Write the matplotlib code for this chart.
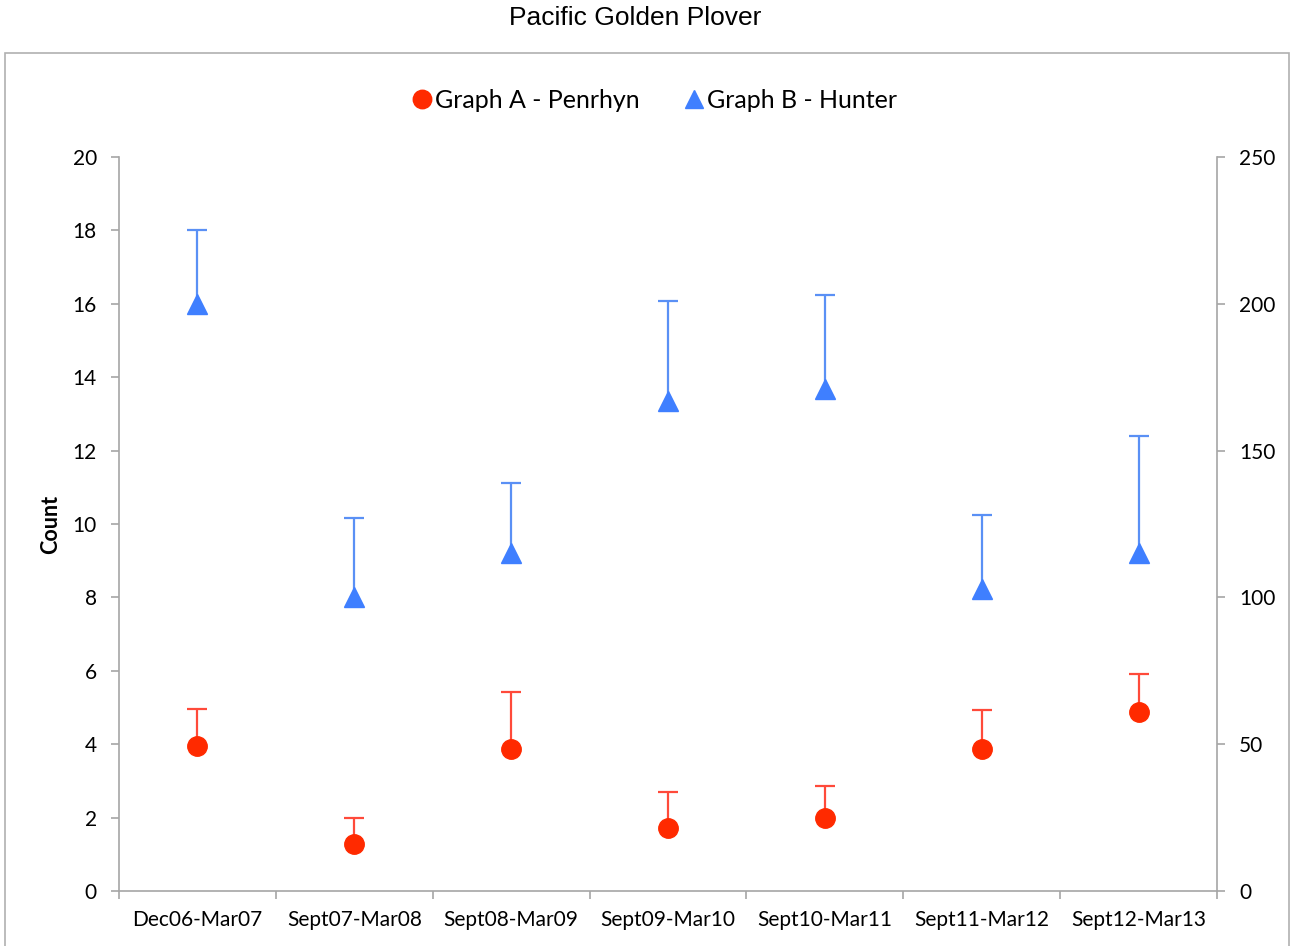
import numpy as np
import matplotlib
matplotlib.use("Agg")
import matplotlib.pyplot as plt
from matplotlib.patches import Rectangle

periods = ["Dec06-Mar07", "Sept07-Mar08", "Sept08-Mar09", "Sept09-Mar10",
           "Sept10-Mar11", "Sept11-Mar12", "Sept12-Mar13"]

# Graph A - Penrhyn (left axis)
penrhyn = [3.95, 1.28, 3.87, 1.72, 1.99, 3.87, 4.88]
penrhyn_err = [1.0, 0.71, 1.55, 0.98, 0.87, 1.06, 1.03]

# Graph B - Hunter (right axis)
hunter = [200, 100, 115, 167, 171, 103, 115]
hunter_err = [25, 27, 24, 34, 32, 25, 40]

red = "#FF2A00"
red_err = "#FF4A3A"
blue = "#3F7FFF"
blue_err = "#5A90F5"
grey = "#A6A6A6"
font = "Lato"

fig = plt.figure(figsize=(12.9, 9.46), dpi=100)
ax = fig.add_axes([119/1290, 1-891/946, (1217-119)/1290, (891-157)/946])
ax2 = ax.twinx()

x = np.arange(len(periods))
n = len(periods)

# plus-only error bars: stem + cap at the top
p_top = np.array(penrhyn) + np.array(penrhyn_err)
h_top = np.array(hunter) + np.array(hunter_err)

ax.vlines(x, penrhyn, p_top, color=red_err, lw=1.6, zorder=2)
ax.plot(x, p_top, "_", color=red_err, ms=14, mew=1.6, zorder=2)
ax.plot(x, penrhyn, "o", color=red, ms=14, zorder=3, label="Graph A - Penrhyn")

ax2.vlines(x, hunter, h_top, color=blue_err, lw=1.6, zorder=2)
ax2.plot(x, h_top, "_", color=blue_err, ms=14, mew=1.6, zorder=2)
ax2.plot(x, hunter, "^", color=blue, ms=14, zorder=3, label="Graph B - Hunter")

ax.set_xlim(-0.5, n - 0.5)
ax.set_ylim(0, 20)
ax.set_yticks(range(0, 21, 2))
ax2.set_ylim(0, 250)
ax2.set_yticks(range(0, 251, 50))

ax.set_xticks(x)
ax.set_xticklabels(periods, fontsize=15, family=font)
ax.set_xticks(np.arange(-0.5, n, 1), minor=True)
ax.tick_params(axis="x", which="major", length=0, pad=14)
ax.tick_params(axis="x", which="minor", length=6, width=1.2, color=grey, direction="out")

for a in (ax, ax2):
    for s in a.spines.values():
        s.set_visible(False)
ax.spines["left"].set_visible(True)
ax.spines["bottom"].set_visible(True)
ax2.spines["right"].set_visible(True)
for s in (ax.spines["left"], ax.spines["bottom"], ax2.spines["right"]):
    s.set_color(grey)
    s.set_linewidth(1.2)

ax.tick_params(axis="y", length=6, width=1.2, color=grey, pad=10)
ax2.tick_params(axis="y", length=6, width=1.2, color=grey, pad=10)
for lab in ax.get_yticklabels() + ax2.get_yticklabels():
    lab.set_fontsize(15)
    lab.set_family(font)

ax.set_ylabel("Count", fontsize=15.5, fontweight="bold", family=font, labelpad=8)

h1, l1 = ax.get_legend_handles_labels()
h2, l2 = ax2.get_legend_handles_labels()
fig.legend(h1 + h2, l1 + l2, loc="center", bbox_to_anchor=(652/1290, 1-100/946),
           ncol=2, frameon=False, prop={"family": font, "size": 18},
           handletextpad=-0.1, columnspacing=1.6, handlelength=1.2, markerscale=0.95)

fig.text(635/1290, 1-18/946, "Pacific Golden Plover", ha="center", va="center",
         fontsize=19, family="Liberation Sans")

fig.patches.append(Rectangle((5/1290, -0.05), 1284/1290, 0.05 + 1-53/946,
                             transform=fig.transFigure, fill=False,
                             edgecolor="#B0B0B0", linewidth=1.2))

fig.savefig("out.png", dpi=100)
